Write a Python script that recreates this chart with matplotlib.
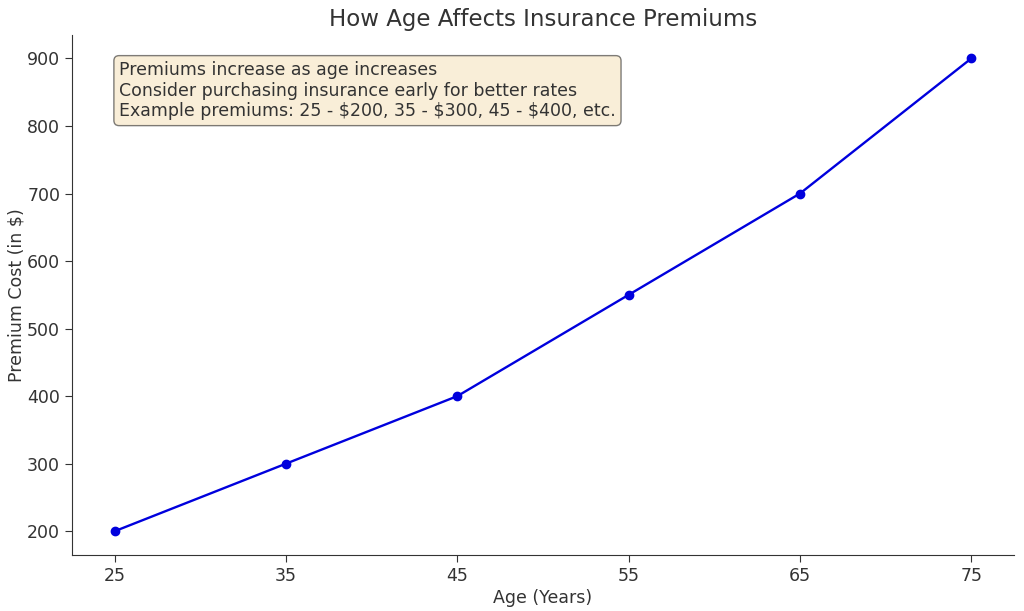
import matplotlib
matplotlib.use("Agg")
import matplotlib.pyplot as plt

ages = [25, 35, 45, 55, 65, 75]
premiums = [200, 300, 400, 550, 700, 900]
note_lines = [
    "Premiums increase as age increases",
    "Consider purchasing insurance early for better rates",
    "Example premiums: 25 - $200, 35 - $300, 45 - $400, etc.",
]

plt.rcParams['font.family'] = ['DejaVu Sans']
txt = '#333333'
plt.rcParams.update({
    'text.color': txt, 'axes.labelcolor': txt,
    'xtick.color': txt, 'ytick.color': txt,
    'axes.edgecolor': txt,
})

fig = plt.figure(figsize=(10.24, 6.11), dpi=100)
ax = fig.add_axes([0.0703, 0.092, 0.920, 0.851])
ax.plot(ages, premiums, marker='o', color='#0000dd', linewidth=1.7, markersize=6)
ax.set_xticks(ages)
ax.set_title("How Age Affects Insurance Premiums", fontsize=16.5, pad=6)
ax.set_xlabel("Age (Years)", fontsize=12.5, labelpad=3)
ax.set_ylabel("Premium Cost (in $)", fontsize=12.5, labelpad=1)
ax.tick_params(labelsize=12.5, length=5)
for s in ['top', 'right']:
    ax.spines[s].set_visible(False)
ax.text(0.05, 0.95, "\n".join(note_lines), transform=ax.transAxes, fontsize=12.5,
        va='top', ha='left',
        bbox=dict(boxstyle='round', facecolor='wheat', alpha=0.5))
fig.savefig("out.png", dpi=100)
